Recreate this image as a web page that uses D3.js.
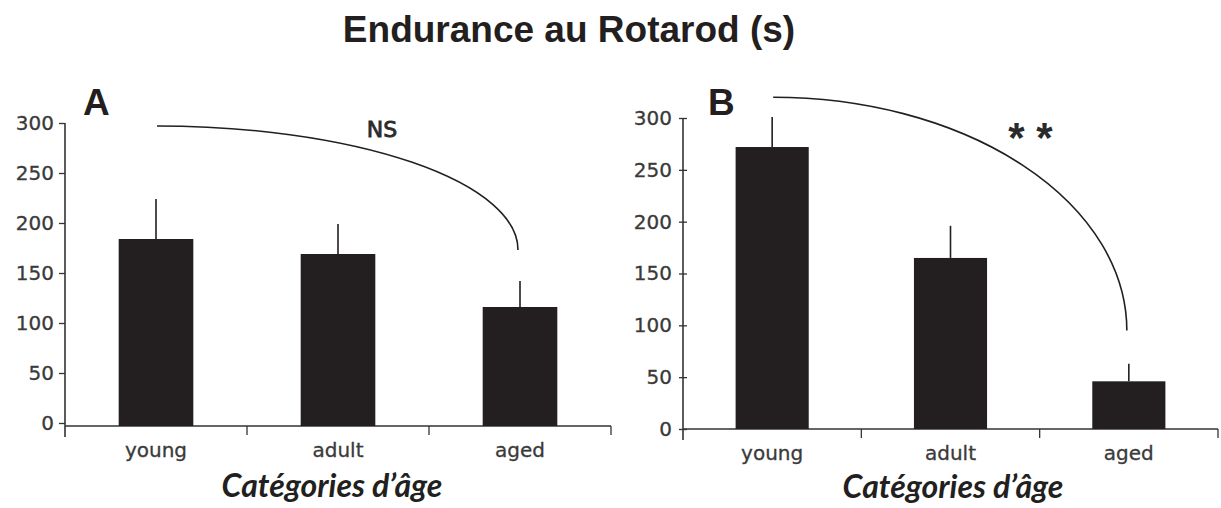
<!DOCTYPE html>
<html>
<head>
<meta charset="utf-8">
<script src="https://cdn.jsdelivr.net/npm/d3@7"></script>
<style>
  body { margin: 0; background: #fff; }
  svg { display: block; }
</style>
</head>
<body>
<div id="chart"></div>
<script>
// data
var categories = ['young', 'adult', 'aged'];
var meanA = [184, 169, 116];
var semA = [40, 30, 26];
var meanB = [272, 165, 46];
var semB = [29, 31, 17];
var yTicks = [0, 50, 100, 150, 200, 250, 300];
var arcFrom = [297, 320];   // height of the comparison arc above "young"
var arcTo = [173, 95];      // height where it stops above "aged"
var sigLabels = ['NS', '* *'];
var panelLabels = ['A', 'B'];

var svgWidth = 1221;
var svgHeight = 508;

var svg = d3.select('#chart')
  .append('svg')
  .attr('width', svgWidth)
  .attr('height', svgHeight);

var ink = '#231f20';
var axisInk = '#333';

// title
svg.append('text')
  .attr('x', 569)
  .attr('y', 42)
  .attr('text-anchor', 'middle')
  .attr('font-family', 'Liberation Sans, Arial, sans-serif')
  .attr('font-weight', 'bold')
  .attr('font-size', '37px')
  .attr('fill', ink)
  .text('Endurance au Rotarod (s)');

var panels = [
  { means: meanA, sems: semA, x0: 65, x1: 611, yTop: 123, yBottom: 423, base: 426,
    crossTicks: false, labelY: 457, titleY: 497 },
  { means: meanB, sems: semB, x0: 683, x1: 1218, yTop: 118, yBottom: 429, base: 429,
    crossTicks: true, labelY: 460, titleY: 498 }
];

panels.forEach(function(p, i) {
  var g = svg.append('g');

  var x = d3.scaleBand()
    .domain(categories)
    .range([p.x0, p.x1])
    .padding(0);

  var y = d3.scaleLinear()
    .domain([0, 300])
    .range([p.yBottom, p.yTop]);

  var barW = x.bandwidth() * 0.41;

  // y axis
  var leftAxis = d3.axisLeft(y)
    .tickValues(yTicks)
    .tickSize(i === 0 ? 6 : 4)
    .tickSizeOuter(0)
    .tickPadding(i === 0 ? 5 : 7);

  var yAxis = g.append('g')
    .attr('transform', `translate(${p.x0}, 0)`)
    .call(leftAxis);

  yAxis.select('.domain').remove();
  yAxis.selectAll('line')
    .attr('stroke', axisInk)
    .attr('stroke-width', 1.3)
    .attr('x1', p.crossTicks ? 4 : 0);
  yAxis.selectAll('text')
    .attr('font-family', 'DejaVu Sans, sans-serif')
    .attr('font-size', '20px')
    .attr('fill', '#3a3a3a')
    .attr('stroke', '#3a3a3a')
    .attr('stroke-width', 0.3);

  g.append('line')
    .attr('x1', p.x0).attr('x2', p.x0)
    .attr('y1', y(300)).attr('y2', p.base + 11)
    .attr('stroke', axisInk)
    .attr('stroke-width', 1.6);

  // x axis line + boundary ticks
  g.append('line')
    .attr('x1', p.x0).attr('x2', p.x1)
    .attr('y1', p.base).attr('y2', p.base)
    .attr('stroke', axisInk)
    .attr('stroke-width', 1.6);

  g.selectAll('.xtick')
    .data(categories)
    .enter()
    .append('line')
    .attr('x1', d => x(d) + x.bandwidth())
    .attr('x2', d => x(d) + x.bandwidth())
    .attr('y1', p.base)
    .attr('y2', p.base + 9)
    .attr('stroke', axisInk)
    .attr('stroke-width', 1.3);

  var bottomAxis = d3.axisBottom(x).tickSize(0).tickPadding(0);
  var xAxis = g.append('g')
    .attr('transform', `translate(0, ${p.labelY - 15})`)
    .call(bottomAxis);
  xAxis.select('.domain').remove();
  xAxis.selectAll('text')
    .attr('dy', null)
    .attr('y', 15)
    .attr('font-family', 'DejaVu Sans, sans-serif')
    .attr('font-size', '20px')
    .attr('fill', '#3a3a3a')
    .attr('stroke', '#3a3a3a')
    .attr('stroke-width', 0.3);

  // bars
  g.selectAll('.bar')
    .data(p.means)
    .enter()
    .append('rect')
    .attr('x', (d, j) => x(categories[j]) + x.bandwidth() / 2 - barW / 2)
    .attr('y', d => y(d))
    .attr('width', barW)
    .attr('height', d => p.base - y(d))
    .attr('fill', ink);

  // error bars (upper only)
  g.selectAll('.err')
    .data(p.means)
    .enter()
    .append('line')
    .attr('x1', (d, j) => x(categories[j]) + x.bandwidth() / 2)
    .attr('x2', (d, j) => x(categories[j]) + x.bandwidth() / 2)
    .attr('y1', d => y(d))
    .attr('y2', (d, j) => y(d + p.sems[j]))
    .attr('stroke', ink)
    .attr('stroke-width', 1.6);

  // comparison arc young -> aged
  var ax0 = x('young') + x.bandwidth() / 2 + 1;
  var ay0 = y(arcFrom[i]);
  var ax1 = x('aged') + x.bandwidth() / 2 - 2;
  var ay1 = y(arcTo[i]);
  g.append('path')
    .attr('d', `M${ax0},${ay0} A${ax1 - ax0},${ay1 - ay0} 0 0 1 ${ax1},${ay1}`)
    .attr('fill', 'none')
    .attr('stroke', ink)
    .attr('stroke-width', 1.6);

  // significance label
  var midX = x('adult') + x.bandwidth() / 2;
  if (i === 0) {
    g.append('text')
      .attr('x', midX + 44)
      .attr('y', y(300) + 14)
      .attr('text-anchor', 'middle')
      .attr('font-family', 'DejaVu Sans, sans-serif')
      .attr('font-size', '22px')
      .attr('fill', '#2a2a2a')
      .attr('stroke', '#2a2a2a')
      .attr('stroke-width', 0.8)
      .text(sigLabels[i]);
  } else {
    g.append('text')
      .attr('x', midX + 80)
      .attr('y', y(300) + 34)
      .attr('text-anchor', 'middle')
      .attr('font-family', 'Liberation Sans, Arial, sans-serif')
      .attr('font-weight', 'bold')
      .attr('font-size', '42px')
      .attr('fill', '#2a2a2a')
      .text(sigLabels[i]);
  }

  // panel letter
  g.append('text')
    .attr('x', p.x0 + (i === 0 ? 18 : 25))
    .attr('y', 115)
    .attr('font-family', 'Liberation Sans, Arial, sans-serif')
    .attr('font-weight', 'bold')
    .attr('font-size', '37px')
    .attr('fill', ink)
    .text(panelLabels[i]);

  // axis title
  g.append('text')
    .attr('x', i === 0 ? 332 : 953)
    .attr('y', p.titleY)
    .attr('text-anchor', 'middle')
    .attr('font-family', 'Lato, sans-serif')
    .attr('font-weight', 'bold')
    .attr('font-style', 'italic')
    .attr('font-size', '32px')
    .attr('fill', ink)
    .text('Catégories d’âge');
});
</script>
</body>
</html>
